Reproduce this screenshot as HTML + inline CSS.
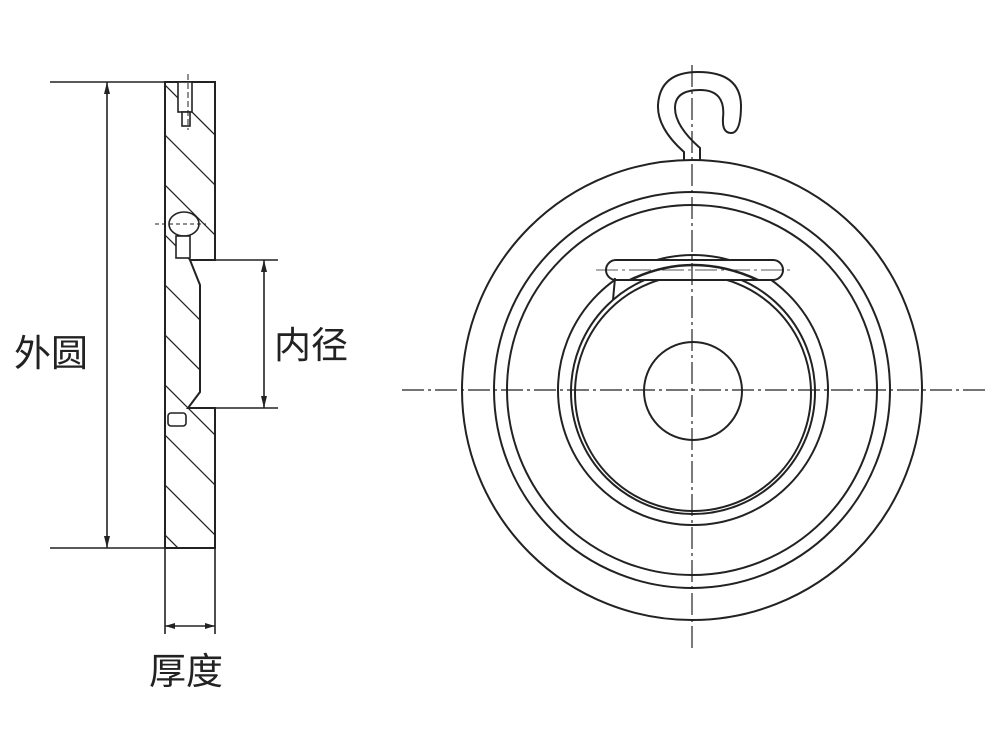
<!DOCTYPE html>
<html><head><meta charset="utf-8"><style>
html,body{margin:0;padding:0;background:#fff;}
svg{display:block}
text{font-family:"Liberation Sans","Noto Sans CJK SC",sans-serif;font-size:37px;fill:#222}
</style></head><body>
<svg width="1000" height="750" viewBox="0 0 1000 750" xmlns="http://www.w3.org/2000/svg">
<defs>
<clipPath id="sec"><path d="M165 82 H215 V260 H190 L200 285 V392 L188 408 H215 V548 H165 Z"/></clipPath>
</defs>
<g stroke="#222" fill="none" stroke-width="1.6">
<path d="M165 82 H215 V260 H190 L200 285 V392 L188 408 H215 V548 H165 Z" stroke-width="2"/>
<g clip-path="url(#sec)" stroke-width="1.3">
<path d="M140 60 L240 160 M140 110 L240 210 M140 160 L240 260 M140 210 L240 310 M140 260 L240 360 M140 310 L240 410 M140 360 L240 460 M140 410 L240 510 M140 460 L240 560 M140 510 L240 610"/>
</g>
<rect x="178" y="82" width="14" height="30" fill="#fff"/>
<rect x="182" y="112" width="8" height="14" fill="#fff"/>
<ellipse cx="184" cy="224" rx="15" ry="12" fill="#fff"/>
<rect x="176" y="236" width="14" height="22" fill="#fff"/>
<rect x="168" y="413" width="18" height="13" fill="#fff" rx="3"/>
<line x1="188" y1="74" x2="188" y2="130" stroke-width="1" stroke-dasharray="6 3"/>
<line x1="155" y1="224" x2="206" y2="224" stroke-width="1" stroke-dasharray="4 3"/>
<line x1="50" y1="82" x2="165" y2="82"/>
<line x1="50" y1="548" x2="165" y2="548"/>
<line x1="107" y1="82" x2="107" y2="548"/>
<line x1="215" y1="260" x2="278" y2="260"/>
<line x1="215" y1="408" x2="278" y2="408"/>
<line x1="264" y1="260" x2="264" y2="408"/>
<line x1="165" y1="548" x2="165" y2="634"/>
<line x1="215" y1="548" x2="215" y2="634"/>
<line x1="165" y1="626" x2="215" y2="626"/>
</g>
<g fill="#222">
<path d="M107 82 l-3 12 h6 z M107 548 l-3 -12 h6 z M264 260 l-3 12 h6 z M264 408 l-3 -12 h6 z M165 626 l10 -3 v6 z M215 626 l-10 -3 v6 z"/>
</g>
<text x="14" y="366">外圆</text>
<text x="274" y="358">内径</text>
<text x="149" y="684">厚度</text>
<g stroke="#222" fill="none" stroke-width="2">
<circle cx="692" cy="390" r="230"/>
<circle cx="692" cy="390" r="198"/>
<circle cx="692" cy="390" r="185"/>
<circle cx="693" cy="390" r="135"/>
<circle cx="693" cy="392" r="122"/>
<circle cx="693" cy="393" r="118"/>
<circle cx="693" cy="391" r="49"/>
<rect x="606" y="260" width="177" height="20" rx="10" fill="#fff"/>
<path d="M615 278 L613 300"/>
<path d="M630 280 Q693 250 758 280" stroke-width="2.5"/>
<path d="M684 160 V152 Q657 128 658 105 Q660 72 698 72 Q740 72 741 105 Q741 133 731 133 Q722 133 723 118 Q726 90 700 90 Q675 90 675 108 Q675 126 700 148 V160"/>
</g>
<g stroke="#222" stroke-width="1.2" stroke-dasharray="22 4 3 4" fill="none">
<line x1="402" y1="390" x2="985" y2="390"/>
<line x1="692" y1="65" x2="692" y2="650"/>
<line x1="596" y1="270" x2="792" y2="270" stroke-width="0.8"/>
</g>
</svg>
</body></html>
